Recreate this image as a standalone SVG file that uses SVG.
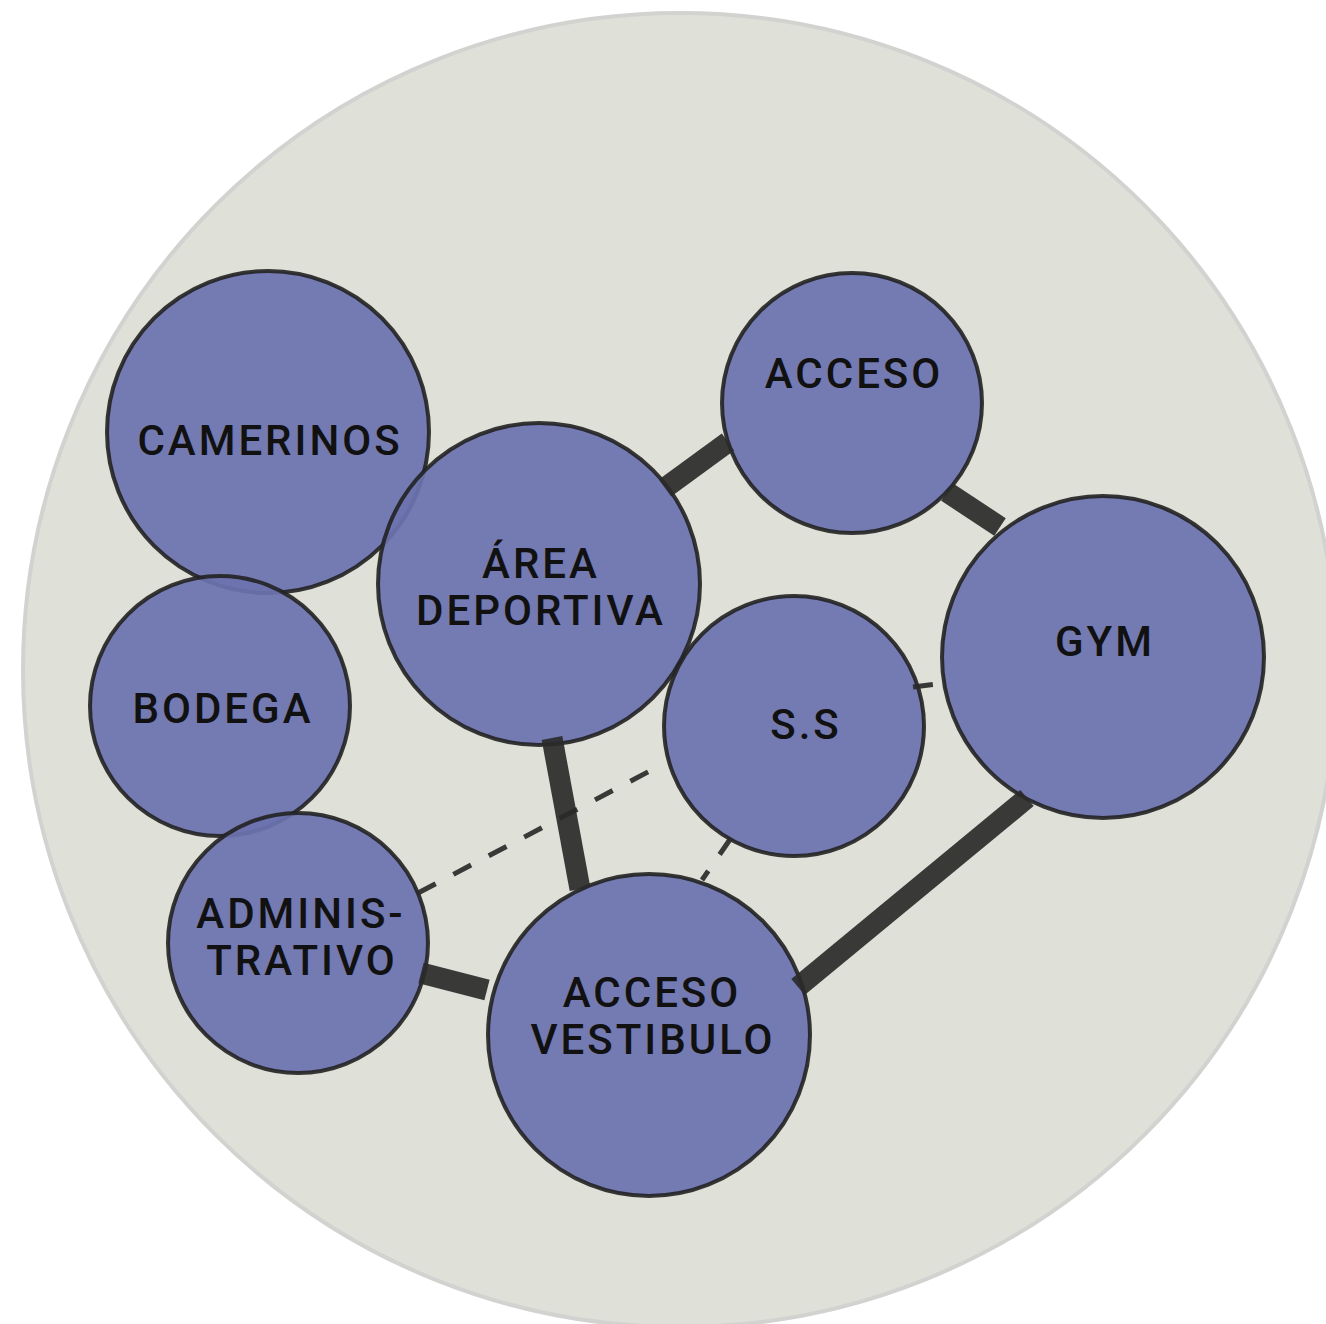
<svg xmlns="http://www.w3.org/2000/svg" width="1326" height="1324" viewBox="0 0 1326 1324">
<style>
.bg{fill:#dfe0d8;stroke:#d2d2d0;stroke-width:4}
.n{fill:#6c72ae;fill-opacity:0.93;stroke:#222;stroke-opacity:0.9;stroke-width:4}
.t{font-family:Roboto,"Liberation Sans",sans-serif;font-weight:500;font-size:42px;letter-spacing:3px;fill:#111;text-anchor:middle}
.thick{stroke:#2a2a2a;stroke-opacity:0.92;stroke-width:21;stroke-linecap:butt;fill:none}
.dash{stroke:#2a2a2a;stroke-opacity:0.92;stroke-width:5;stroke-dasharray:20 20;fill:none}
</style>
<rect width="1326" height="1324" fill="#ffffff"/>
<circle class="bg" cx="680" cy="670" r="657"/>
<g id="camerinos"><circle class="n" cx="268" cy="432" r="161"/><text class="t" x="270" y="455">CAMERINOS</text></g>
<g id="area-deportiva"><circle class="n" cx="539" cy="584" r="161"/><text class="t" x="541" y="578">ÁREA</text><text class="t" x="541" y="625">DEPORTIVA</text></g>
<g id="acceso"><circle class="n" cx="852" cy="403" r="130"/><text class="t" x="854" y="388">ACCESO</text></g>
<g id="gym"><circle class="n" cx="1103" cy="657" r="161"/><text class="t" x="1105" y="656">GYM</text></g>
<g id="bodega"><circle class="n" cx="220" cy="706" r="130"/><text class="t" x="223" y="723">BODEGA</text></g>
<g id="ss"><circle class="n" cx="794" cy="726" r="130"/><text class="t" x="806" y="739">S.S</text></g>
<g id="administrativo"><circle class="n" cx="298" cy="943" r="130"/><text class="t" x="301" y="928">ADMINIS-</text><text class="t" x="302" y="975">TRATIVO</text></g>
<g id="acceso-vestibulo"><circle class="n" cx="649" cy="1035" r="161"/><text class="t" x="652" y="1007">ACCESO</text><text class="t" x="653" y="1054">VESTIBULO</text></g>
<g id="connectors">
<line class="thick" x1="665" y1="488" x2="728" y2="442"/>
<line class="thick" x1="947" y1="492" x2="1000" y2="527"/>
<line class="thick" x1="552" y1="738" x2="580" y2="889"/>
<line class="thick" x1="421" y1="973" x2="487" y2="990"/>
<line class="thick" x1="1027" y1="798" x2="798" y2="987"/>
<line class="dash" x1="418" y1="893" x2="665" y2="763"/>
<line class="dash" x1="731" y1="838" x2="702" y2="880"/>
<line class="dash" x1="913" y1="687" x2="946" y2="683" stroke-dasharray="11 11"/>
</g>
</svg>
